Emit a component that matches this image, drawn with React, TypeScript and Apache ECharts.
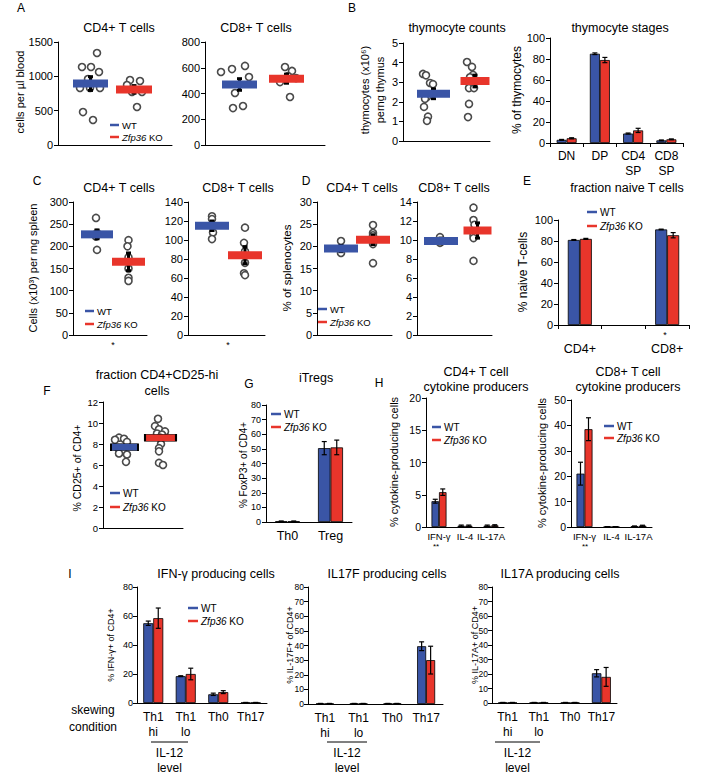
import React, { useEffect, useRef } from 'react';
import * as echarts from 'echarts';

const BLUE = '#3A55A6';
const RED = '#E8352B';
const FONT = '"Liberation Sans", Arial, Helvetica, sans-serif';

// ---------------- DATA ----------------
// A: blood counts (cells per µl)
const aCD4WT = [1340, 1136, 1136, 1063, 960, 830, 830, 830, 480, 364];
const aCD4KO = [946, 932, 873, 772, 772, 553];
const aCD4Mean = [895, 810];
const aCD4Err = [100, 55];
const aCD8WT = [567, 590, 614, 528, 404, 287, 303];
const aCD8KO = [606, 575, 536, 520, 489, 373];
const aCD8Mean = [470, 515];
const aCD8Err = [45, 35];
// B: thymocyte counts (x10^6)
const bCountWT = [3.42, 3.35, 2.96, 2.9, 2.24, 2.15, 1.74, 1.24, 1.03];
const bCountKO = [4.03, 3.78, 3.37, 3.25, 2.7, 2.7, 1.89, 1.22];
const bCountMean = [2.41, 3.06];
const bCountErr = [0.25, 0.3];
// B: thymocyte stages
const stageCats = ['DN', 'DP', 'CD4\nSP', 'CD8\nSP'];
const stageWT = [3, 85, 9, 2.5];
const stageKO = [4.5, 79, 12, 3.5];
const stageWTErr = [0.4, 0.8, 0.5, 0.4];
const stageKOErr = [0.5, 2.5, 2, 0.4];
// C: spleen counts (x10^3 per mg)
const cCD4WT = [264, 230, 222, 192];
const cCD4KO = [214, 200, 175, 150, 129, 122];
const cCD4Mean = [227, 165];
const cCD4Err = [10, 20];
const cCD8WT = [125, 122, 108, 101];
const cCD8KO = [113, 97, 88, 76, 65, 63];
const cCD8Mean = [115, 84];
const cCD8Err = [5, 9];
// D: % of splenocytes
const dCD4WT = [21.2, 19.5, 18.5];
const dCD4KO = [24.8, 23, 22.5, 21, 20.5, 16.2];
const dCD4Mean = [19.5, 21.5];
const dCD4Err = [0.7, 1.1];
const dCD8WT = [10.3, 9.7];
const dCD8KO = [13.4, 12.1, 11.6, 10.5, 10.2, 7.8];
const dCD8Mean = [9.9, 11.0];
const dCD8Err = [0.3, 0.8];
// E: fraction naive T cells
const naiveCats = ['CD4+', '', 'CD8+'];
const naiveWT: (number | null)[] = [81, null, 91];
const naiveKO: (number | null)[] = [82, null, 85.5];
const naiveWTErr = [0.4, 0, 0.3];
const naiveKOErr = [0.5, 0, 2.5];
// F: % CD25+ of CD4+
const fWT = [8.6, 8.5, 8.4, 8.2, 7.6, 7.3, 7.1, 7.0, 6.3];
const fKO = [10.4, 9.7, 9.4, 9.2, 9.0, 8.9, 8.6, 8.0, 7.6, 7.3, 6.2, 6.0];
const fMean = [7.7, 8.6];
// G: iTregs
const tregCats = ['Th0', 'Treg'];
const tregWT = [0.5, 50.5];
const tregKO = [0.5, 51];
const tregWTErr = [0.2, 4.5];
const tregKOErr = [0.2, 5];
// H: cytokine producers
const cytoCats = ['IFN-γ', 'IL-4', 'IL-17A'];
const h4WT = [4, 0.2, 0.2];
const h4KO = [5.4, 0.2, 0.25];
const h4WTErr = [0.3, 0.1, 0.1];
const h4KOErr = [0.5, 0.1, 0.1];
const h8WT = [21, 0.1, 0.3];
const h8KO = [38.5, 0.1, 0.5];
const h8WTErr = [4.5, 0, 0.1];
const h8KOErr = [4.5, 0, 0.2];
// I: skewing conditions
const skewCats = ['Th1\nhi', 'Th1\nlo', 'Th0', 'Th17'];
const ifnWT = [55, 18.5, 6, 0.3];
const ifnKO = [58.5, 20, 7.5, 0.3];
const ifnWTErr = [1.5, 0.3, 0.8, 0.1];
const ifnKOErr = [7, 4, 1, 0.1];
const il17fWT = [0.3, 0.3, 0.3, 39.5];
const il17fKO = [0.3, 0.3, 0.3, 30];
const il17fWTErr = [0.1, 0.1, 0.1, 3];
const il17fKOErr = [0.1, 0.1, 0.1, 9.5];
const il17aWT = [0.3, 0.3, 0.3, 20.5];
const il17aKO = [0.3, 0.3, 0.3, 18];
const il17aWTErr = [0.1, 0.1, 0.1, 2.5];
const il17aKOErr = [0.1, 0.1, 0.1, 6.5];

// jitter (px) of the dots around their group centre
const aCD4WTJit = [6.5, -8.5, 0.5, 8.5, -2.5, -10.5, -0.5, 9.5, -7.5, 2.5];
const aCD4KOJit = [-4, 6, -7, -2, 8, 3];
const aCD8WTJit = [-18.5, -7.5, 5.5, 9.5, -4.5, -6.5, 3.5];
const aCD8KOJit = [-1.5, 5.5, 1.5, 9.5, -6.5, 3.5];
const bCountWTJit = [-10.5, -7.5, -3.5, -0.5, -6.5, -8.5, -9.5, -5.5, -6.5];
const bCountKOJit = [-8, -3, -2, -5, -6, -1, -6, -7];
const cCD4WTJit = [-1, 0, -1, 0];
const cCD4KOJit = [0, -1, 0, 0, 0, 0];
const cCD8WTJit = [0, 0, 1, 0];
const cCD8KOJit = [0, -1, 0, 0, -1, 0];
const dCD4WTJit = [0, 0, 0];
const dCD4KOJit = [0, 0, 0, 0, 0, 0];
const dCD8WTJit = [-1, -1];
const dCD8KOJit = [-4, -4, -3, -4, -4, -4];
const fWTJit = [-5.5, -0.5, -9.5, 2.5, -6.5, -1.5, -5.5, 2.5, 1.5];
const fKOJit = [-2.5, -5.5, -1.5, 4.5, -3.5, 1.5, -0.5, 0.5, -1.5, -1.5, -1.5, 2.5];

// ---------------- BUILDERS ----------------
type G = { left: number; top: number; width: number; height: number };

const option: any = {
  animation: false,
  backgroundColor: '#fff',
  grid: [],
  xAxis: [],
  yAxis: [],
  series: [],
  graphic: { elements: [] },
};
const gfx: any[] = option.graphic.elements;

const axisLine = { show: true, onZero: false, lineStyle: { color: '#000', width: 1 } };

function addY(idx: number, max: number, interval: number, fs: number, margin = 5) {
  option.yAxis.push({
    gridIndex: idx,
    type: 'value',
    min: 0,
    max,
    interval,
    axisLine,
    axisTick: { show: true, length: 4, lineStyle: { color: '#000' } },
    axisLabel: {
      color: '#000', fontSize: fs, fontFamily: FONT, margin, showMinLabel: true, showMaxLabel: true,
      formatter: (v: number) => String(v),
    },
    splitLine: { show: false },
  });
}

function errRender(off: number, capW: number, lw: number) {
  return (params: any, api: any) => {
    const p1 = api.coord([api.value(0), api.value(1)]);
    const p2 = api.coord([api.value(0), api.value(2)]);
    const cx = p1[0] + off;
    const st = { stroke: '#000', lineWidth: lw };
    return {
      type: 'group',
      children: [
        { type: 'line', shape: { x1: cx, y1: p1[1], x2: cx, y2: p2[1] }, style: st },
        { type: 'line', shape: { x1: cx - capW / 2, y1: p1[1], x2: cx + capW / 2, y2: p1[1] }, style: st },
        { type: 'line', shape: { x1: cx - capW / 2, y1: p2[1], x2: cx + capW / 2, y2: p2[1] }, style: st },
      ],
    };
  };
}

let gi = 0;

function scatterPanel(
  g: G, yMax: number, yInt: number, fs: number,
  cx: [number, number], bw: [number, number], bh: number,
  wt: number[], wtJ: number[], ko: number[], koJ: number[],
  means: number[], errs: number[] | null, bordered = false
) {
  const idx = gi++;
  option.grid.push({ ...g });
  option.xAxis.push({
    gridIndex: idx, type: 'value', min: 0, max: 1,
    axisLine, axisTick: { show: false }, axisLabel: { show: false }, splitLine: { show: false },
  });
  addY(idx, yMax, yInt, fs);
  const ux = cx.map((c) => (c - g.left) / g.width);
  const dot = {
    type: 'scatter', xAxisIndex: idx, yAxisIndex: idx, symbol: 'circle', symbolSize: 7, z: 2,
    itemStyle: { color: '#fff', borderColor: '#4a4a4a', borderWidth: 1.6, opacity: 1 },
  };
  option.series.push({ ...dot, data: wt.map((v, k) => ({ value: [ux[0], v], symbolOffset: [wtJ[k], 0] })) });
  option.series.push({ ...dot, data: ko.map((v, k) => ({ value: [ux[1], v], symbolOffset: [koJ[k], 0] })) });
  if (errs) {
    option.series.push({
      type: 'custom', xAxisIndex: idx, yAxisIndex: idx, z: 3,
      renderItem: errRender(0, 5, 3),
      encode: { x: 0, y: [1, 2] },
      data: means.map((m, k) => [ux[k], m - errs[k], m + errs[k]]),
    });
  }
  option.series.push({
    type: 'scatter', xAxisIndex: idx, yAxisIndex: idx, symbol: 'rect', z: 4,
    data: means.map((m, k) => ({
      value: [ux[k], m],
      symbolSize: [bw[k], bh],
      itemStyle: {
        color: k === 0 ? BLUE : RED,
        opacity: 1,
        borderColor: bordered ? '#000' : 'transparent',
        borderWidth: bordered ? 1 : 0,
      },
    })),
  });
}

function barPanel(
  g: G, cats: string[], wt: (number | null)[], ko: (number | null)[], wtE: number[], koE: number[],
  yMax: number, yInt: number, fs: number, catFs: number, bw: number, labMargin: number, ticks: boolean,
  yMargin = 5
) {
  const idx = gi++;
  option.grid.push({ ...g });
  option.xAxis.push({
    gridIndex: idx, type: 'category', data: cats, boundaryGap: true,
    axisLine,
    axisTick: { show: ticks, length: 4, interval: 0, lineStyle: { color: '#000' } },
    axisLabel: { interval: 0, color: '#000', fontSize: catFs, fontFamily: FONT, margin: labMargin, lineHeight: catFs + 3 },
    splitLine: { show: false },
  });
  addY(idx, yMax, yInt, fs, yMargin);
  const bar = {
    type: 'bar', xAxisIndex: idx, yAxisIndex: idx, barWidth: bw, barGap: '0%', z: 2,
  };
  option.series.push({ ...bar, data: wt.map((v) => (v == null ? '-' : v)), itemStyle: { color: BLUE, borderColor: '#000', borderWidth: 0.8 } });
  option.series.push({ ...bar, data: ko.map((v) => (v == null ? '-' : v)), itemStyle: { color: RED, borderColor: '#000', borderWidth: 0.8 } });
  const mk = (vals: (number | null)[], errs: number[]) =>
    vals.map((v, k) => (v == null ? null : [k, v - errs[k], v + errs[k]])).filter((d) => d !== null);
  option.series.push({
    type: 'custom', xAxisIndex: idx, yAxisIndex: idx, z: 5, renderItem: errRender(-bw / 2, 5, 1.2),
    encode: { x: 0, y: [1, 2] }, data: mk(wt, wtE),
  });
  option.series.push({
    type: 'custom', xAxisIndex: idx, yAxisIndex: idx, z: 5, renderItem: errRender(bw / 2, 5, 1.2),
    encode: { x: 0, y: [1, 2] }, data: mk(ko, koE),
  });
}

function text(x: number, y: number, t: string, fs: number, opts: any = {}) {
  const align = opts.align || 'center';
  gfx.push({
    type: 'text', x, y, rotation: opts.rot || 0, z: 10,
    style: {
      text: t, fontSize: fs, fontFamily: FONT, fill: '#000',
      fontStyle: opts.italic ? 'italic' : 'normal',
      textAlign: align, align, textVerticalAlign: 'middle', verticalAlign: 'middle',
      lineHeight: opts.lh || fs + 3,
    },
  });
}

function yName(x: number, y: number, t: string, fs: number) {
  text(x, y, t, fs, { rot: Math.PI / 2 });
}

function legend(x: number, yWT: number, yKO: number, fs: number, lineW = 10) {
  gfx.push({ type: 'line', z: 10, shape: { x1: x, y1: yWT, x2: x + lineW, y2: yWT }, style: { stroke: BLUE, lineWidth: 2.5 } });
  gfx.push({ type: 'line', z: 10, shape: { x1: x, y1: yKO, x2: x + lineW, y2: yKO }, style: { stroke: RED, lineWidth: 2.5 } });
  text(x + lineW + 3, yWT, 'WT', fs, { align: 'left' });
  gfx.push({
    type: 'text', x: x + lineW + 3, y: yKO, z: 10,
    style: {
      text: '{i|Zfp36} KO', fontSize: fs, fontFamily: FONT, fill: '#000',
      textAlign: 'left', align: 'left', textVerticalAlign: 'middle', verticalAlign: 'middle',
      rich: { i: { fontStyle: 'italic', fontSize: fs, fontFamily: FONT, fill: '#000', color: '#000' } },
    },
  });
}

function bracket(x1: number, x2: number, y: number) {
  gfx.push({ type: 'line', z: 10, shape: { x1, y1: y, x2, y2: y }, style: { stroke: '#000', lineWidth: 1 } });
  text((x1 + x2) / 2, y + 11, 'IL-12', 12);
  text((x1 + x2) / 2, y + 26, 'level', 12);
}

// ---------------- LAYOUT ----------------
// A
scatterPanel({ left: 58, top: 42, width: 114, height: 103 }, 1500, 500, 11, [90.5, 134], [35, 36], 8,
  aCD4WT, aCD4WTJit, aCD4KO, aCD4KOJit, aCD4Mean, aCD4Err);
scatterPanel({ left: 205, top: 42, width: 120, height: 103 }, 800, 200, 11, [239.5, 286.5], [35, 35], 8,
  aCD8WT, aCD8WTJit, aCD8KO, aCD8KOJit, aCD8Mean, aCD8Err);
// B
scatterPanel({ left: 403, top: 43, width: 87, height: 98 }, 5, 1, 11, [433.5, 475], [33, 29], 8,
  bCountWT, bCountWTJit, bCountKO, bCountKOJit, bCountMean, bCountErr);
barPanel({ left: 550, top: 38, width: 133, height: 105 }, stageCats, stageWT, stageKO, stageWTErr, stageKOErr,
  100, 20, 11, 12, 10, 5, true);
// C
scatterPanel({ left: 73, top: 202, width: 74, height: 133 }, 300, 50, 11, [97, 128.5], [32, 33], 8,
  cCD4WT, cCD4WTJit, cCD4KO, cCD4KOJit, cCD4Mean, cCD4Err);
scatterPanel({ left: 188, top: 202, width: 77, height: 133 }, 140, 20, 11, [212, 245], [34, 34], 8,
  cCD8WT, cCD8WTJit, cCD8KO, cCD8KOJit, cCD8Mean, cCD8Err);
// D
scatterPanel({ left: 317, top: 202, width: 75, height: 133 }, 30, 5, 11, [341, 373], [34, 34], 8,
  dCD4WT, dCD4WTJit, dCD4KO, dCD4KOJit, dCD4Mean, dCD4Err);
scatterPanel({ left: 417, top: 202, width: 75, height: 133 }, 14, 2, 11, [441, 477.5], [34, 28], 8,
  dCD8WT, dCD8WTJit, dCD8KO, dCD8KOJit, dCD8Mean, dCD8Err);
// E
barPanel({ left: 558, top: 220, width: 131, height: 105 }, naiveCats, naiveWT, naiveKO, naiveWTErr, naiveKOErr,
  100, 20, 11, 12.5, 12, 16, true);
// F
scatterPanel({ left: 103, top: 402, width: 80, height: 126 }, 12, 2, 9.5, [124.5, 160.5], [27, 31], 7,
  fWT, fWTJit, fKO, fKOJit, fMean, null, true);
// G
barPanel({ left: 266, top: 405, width: 86, height: 117 }, tregCats, tregWT, tregKO, tregWTErr, tregKOErr,
  80, 10, 9, 12.5, 12.5, 6, false);
// H
barPanel({ left: 426, top: 398, width: 78, height: 129 }, cytoCats, h4WT, h4KO, h4WTErr, h4KOErr,
  20, 5, 10.5, 9.5, 7.5, 3, false);
barPanel({ left: 571, top: 400, width: 81, height: 127 }, cytoCats, h8WT, h8KO, h8WTErr, h8KOErr,
  50, 10, 10.5, 9.5, 8, 3, false);
// I
barPanel({ left: 137, top: 587, width: 130, height: 116 }, skewCats, ifnWT, ifnKO, ifnWTErr, ifnKOErr,
  80, 20, 9, 12, 10, 6, false, 4);
barPanel({ left: 308, top: 587, width: 135, height: 117 }, skewCats, il17fWT, il17fKO, il17fWTErr, il17fKOErr,
  80, 10, 8.5, 12, 9, 6, false, 4);
barPanel({ left: 492, top: 587, width: 125, height: 116 }, skewCats, il17aWT, il17aKO, il17aWTErr, il17aKOErr,
  80, 10, 8.5, 12, 9.5, 6, false, 4);

// ---------------- TEXT ----------------
// panel letters
text(21, 8, 'A', 12);
text(352, 8, 'B', 12);
text(37, 181, 'C', 12);
text(306, 181, 'D', 12);
text(527, 181, 'E', 12);
text(47, 391, 'F', 12);
text(249, 384, 'G', 12);
text(379, 383, 'H', 12);
text(70, 574, 'I', 12);

// titles
text(119, 27.5, 'CD4+ T cells', 12.5);
text(256, 27.5, 'CD8+ T cells', 12.5);
text(457, 28, 'thymocyte counts', 12.5);
text(620, 28, 'thymocyte stages', 12.5);
text(119, 188, 'CD4+ T cells', 12.5);
text(238, 188, 'CD8+ T cells', 12.5);
text(362, 188, 'CD4+ T cells', 12.5);
text(454, 188, 'CD8+ T cells', 12.5);
text(627, 188, 'fraction naive T cells', 12.5);
text(157, 375, 'fraction CD4+CD25-hi', 12.5);
text(157, 391, 'cells', 12.5);
text(316, 378, 'iTregs', 12.5);
text(476, 372, 'CD4+ T cell', 12.5);
text(476, 387, 'cytokine producers', 12.5);
text(628, 372, 'CD8+ T cell', 12.5);
text(628, 387, 'cytokine producers', 12.5);
text(216, 574, 'IFN-γ producing cells', 12.5);
text(387, 574, 'IL17F producing cells', 12.5);
text(560, 574, 'IL17A producing cells', 12.5);

// y-axis names
yName(20, 92, 'cells per µl blood', 11);
yName(365, 90, 'thymocytes (x10⁶)', 11);
yName(380, 90, 'perng thymus', 11);
yName(517, 90, '% of thymocytes', 12);
yName(33, 268, 'Cells (x10³) per mg spleen', 11);
yName(287, 268, '% of splenocytes', 11.5);
yName(523, 272, '% naive T-cells', 12);
yName(77, 468, '% CD25+ of CD4+', 10.5);
yName(243, 465, '% FoxP3+ of CD4+', 10);
yName(394, 462, '% cytokine-producing cells', 11);
yName(542, 463, '% cytokine-producing cells', 11);
yName(111, 645, '% IFN-γ+ of CD4+', 9);
yName(290, 645, '% IL-17F+ of CD4+', 9);
yName(475, 645, '% IL-17A+ of CD4+', 9);

// legends
legend(110, 125, 137, 9.5, 9);
legend(85, 311, 324, 9.5, 9);
legend(318, 309, 322, 9.5, 9);
legend(587, 212, 226, 10, 10);
legend(110, 493, 507, 10, 10);
legend(271, 414, 427, 10, 10);
legend(432, 427, 440, 10, 9);
legend(604, 426, 438, 10, 10);
legend(188, 608, 621, 10, 10);

// significance marks
text(113, 345, '*', 9);
text(228, 345, '*', 9);
text(665, 335, '*', 9);
text(436, 546, '**', 8);
text(585, 546, '**', 8);

// skewing condition & IL-12 brackets
text(93, 710, 'skewing', 12);
text(93, 727, 'condition', 12);
bracket(151, 188, 742);
bracket(327, 367, 742);
bracket(495, 540, 742);

export default function App() {
  const ref = useRef<HTMLDivElement>(null);
  useEffect(() => {
    if (!ref.current) return;
    const chart = echarts.init(ref.current, undefined, { renderer: 'svg' });
    chart.setOption(option);
    return () => chart.dispose();
  }, []);
  return (
    <div
      ref={ref}
      style={{ position: 'absolute', left: 0, top: 0, width: 722, height: 781, background: '#fff' }}
    />
  );
}
